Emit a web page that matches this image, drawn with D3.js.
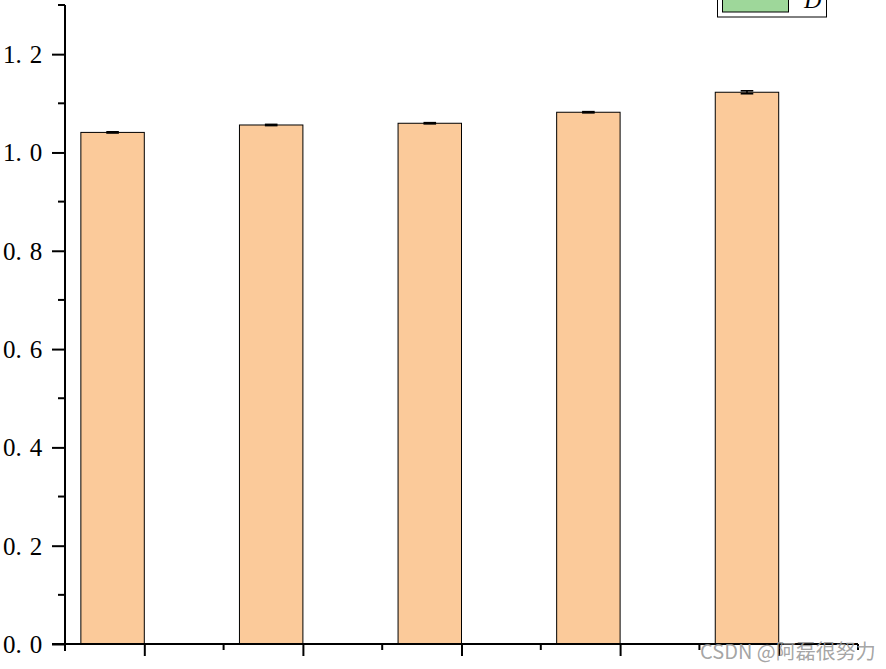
<!DOCTYPE html>
<html>
<head>
<meta charset="utf-8">
<script src="https://cdn.jsdelivr.net/npm/d3@7"></script>
<style>
  html, body { margin: 0; padding: 0; background: #fff; }
  svg { display: block; }
</style>
</head>
<body>
<svg id="chart" width="886" height="669"></svg>
<script>
// ---- data ----
const categories = [1, 2, 3, 4, 5];
const values = [1.0408, 1.0559, 1.0594, 1.0818, 1.1225];
const errors = [0.0012, 0.0012, 0.0012, 0.0012, 0.003];
const yTickValues = [0.0, 0.2, 0.4, 0.6, 0.8, 1.0, 1.2];
const yMinorTicks = [0.1, 0.3, 0.5, 0.7, 0.9, 1.1, 1.3];
const xMinorTicks = [0.5, 1.5, 2.5, 3.5, 4.5, 5.5];
const legendNames = ["D"];
const legendColors = ["#9ED79A"];
const barColor = "#FBCA9A";
const watermark = "CSDN @阿磊很努力";

const svg = d3.select("#chart");
const x = d3.scaleLinear().domain([0.5, 5.5]).range([65, 858]);
const y = d3.scaleLinear().domain([0, 1.3]).range([644, 5]);
const barW = 0.40; // bar occupies [c - barW, c] in category units

// bars
svg.append("g").selectAll("rect").data(categories).join("rect")
  .attr("x", (d) => x(d - barW))
  .attr("width", (d) => x(d) - x(d - barW))
  .attr("y", (d, i) => y(values[i]))
  .attr("height", (d, i) => y(0) - y(values[i]))
  .attr("fill", barColor)
  .attr("stroke", "#000")
  .attr("stroke-width", 1);

// error bars
const eg = svg.append("g").attr("stroke", "#000").attr("stroke-width", 1.6);
categories.forEach((d, i) => {
  const cx = (x(d - barW) + x(d)) / 2;
  const t = y(values[i] + errors[i]), b = y(values[i] - errors[i]);
  eg.append("line").attr("x1", cx).attr("x2", cx).attr("y1", t).attr("y2", b);
  eg.append("line").attr("x1", cx - 6.3).attr("x2", cx + 6.3).attr("y1", t).attr("y2", t);
  eg.append("line").attr("x1", cx - 6.3).attr("x2", cx + 6.3).attr("y1", b).attr("y2", b);
});

// y axis
const yAxis = svg.append("g").attr("transform", "translate(65,0)");
yAxis.call(d3.axisLeft(y).tickValues(yTickValues).tickSize(13).tickSizeOuter(0).tickFormat(""));
yAxis.select(".domain").remove();
yAxis.selectAll(".tick line").attr("stroke", "#000").attr("stroke-width", 2);
yAxis.append("line").attr("x1", 0).attr("x2", 0).attr("y1", y(1.3)).attr("y2", 651)
  .attr("stroke", "#000").attr("stroke-width", 2);
yAxis.selectAll(".minor").data(yMinorTicks).join("line")
  .attr("class", "minor")
  .attr("x1", -7).attr("x2", 0)
  .attr("y1", (d) => y(d)).attr("y2", (d) => y(d))
  .attr("stroke", "#000").attr("stroke-width", 2);

// y labels (SimSun-like spacing after the decimal point)
const lab = svg.append("g")
  .attr("font-family", "'Liberation Serif', 'DejaVu Serif', serif")
  .attr("font-size", 25)
  .attr("fill", "#000");
yTickValues.forEach((v) => {
  const s = d3.format(".1f")(v);
  const parts = s.split(".");
  const t = lab.append("text").attr("x", 3).attr("y", y(v) + 9);
  t.append("tspan").text(parts[0] + ".");
  t.append("tspan").attr("dx", 8).text(parts[1]);
});

// x axis
const xAxis = svg.append("g").attr("transform", "translate(0,644)");
xAxis.call(d3.axisBottom(x).tickValues(categories).tickSize(12).tickSizeOuter(0).tickFormat(""));
xAxis.select(".domain").remove();
xAxis.selectAll(".tick line").attr("stroke", "#000").attr("stroke-width", 2);
xAxis.append("line").attr("x1", 52).attr("x2", x(5.5)).attr("y1", 0).attr("y2", 0)
  .attr("stroke", "#000").attr("stroke-width", 2);
xAxis.selectAll(".minor").data(xMinorTicks).join("line")
  .attr("class", "minor")
  .attr("x1", (d) => x(d)).attr("x2", (d) => x(d))
  .attr("y1", 0).attr("y2", 6)
  .attr("stroke", "#000").attr("stroke-width", 2);

// legend (clipped at top, only last entry visible)
const lg = svg.append("g");
lg.append("rect").attr("x", 717.5).attr("y", -30).attr("width", 109).attr("height", 47)
  .attr("fill", "#fff").attr("stroke", "#000").attr("stroke-width", 1);
legendNames.forEach((n, i) => {
  lg.append("rect").attr("x", 722.5).attr("y", -15 + i * 25).attr("width", 66).attr("height", 27)
    .attr("fill", legendColors[i]).attr("stroke", "#000").attr("stroke-width", 1);
  lg.append("text").attr("x", 804).attr("y", 8 + i * 25)
    .attr("font-family", "'Liberation Serif', 'DejaVu Serif', serif")
    .attr("font-style", "italic")
    .attr("font-size", 24).attr("fill", "#000").text(n);
});

// watermark
svg.append("text").attr("x", 700).attr("y", 659)
  .attr("font-family", "'Noto Sans CJK SC', 'Noto Sans', sans-serif")
  .attr("font-size", 20)
  .attr("fill", "#9a9a9a")
  .attr("fill-opacity", 0.9)
  .text(watermark);
</script>
</body>
</html>
